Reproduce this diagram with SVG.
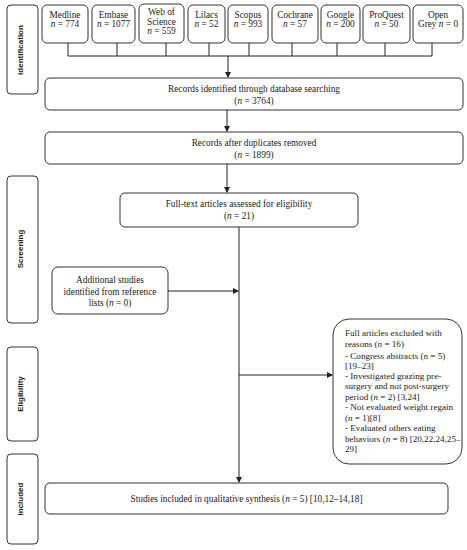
<svg xmlns="http://www.w3.org/2000/svg" width="467" height="550" viewBox="0 0 467 550">
<style>
.bx{fill:#fff;stroke:#333;stroke-width:1}
.t{font-family:"Liberation Serif",serif;font-size:9.3px;fill:#222;text-anchor:middle}
.tl{font-family:"Liberation Serif",serif;font-size:9.1px;fill:#222}
.s{font-family:"Liberation Sans",sans-serif;font-size:8px;font-weight:bold;fill:#222;text-anchor:middle}
.c{fill:none;stroke:#222;stroke-width:1}
</style>
<defs>
<marker id="ah" markerWidth="6" markerHeight="6" refX="5" refY="3" orient="auto" markerUnits="userSpaceOnUse">
<path d="M0,0 L6,3 L0,6 z" fill="#222"/>
</marker>
</defs>
<g id="stage-identification"><rect class="bx" x="7" y="5" width="31" height="89" rx="4"/><text class="s" transform="translate(23,50) rotate(-90)">Identification</text></g>
<g id="stage-screening"><rect class="bx" x="7" y="176" width="31" height="147" rx="4"/><text class="s" transform="translate(23,249) rotate(-90)">Screening</text></g>
<g id="stage-eligibility"><rect class="bx" x="7" y="347" width="31" height="94" rx="4"/><text class="s" transform="translate(23,394) rotate(-90)">Eligibility</text></g>
<g id="stage-included"><rect class="bx" x="7" y="454" width="31" height="90" rx="4"/><text class="s" transform="translate(23,499) rotate(-90)">Included</text></g>

<g id="db-medline"><rect class="bx" x="42" y="5" width="46" height="38" rx="5"/><text class="t" x="65" y="18">Medline</text><text class="t" x="65" y="27"><tspan font-style="italic">n</tspan> = 774</text></g>
<g id="db-embase"><rect class="bx" x="92" y="5" width="43" height="38" rx="5"/><text class="t" x="113.5" y="18">Embase</text><text class="t" x="113.5" y="27"><tspan font-style="italic">n</tspan> = 1077</text></g>
<g id="db-wos"><rect class="bx" x="139" y="4" width="45" height="39" rx="5"/><text class="t" x="161.5" y="15">Web of</text><text class="t" x="161.5" y="25">Science</text><text class="t" x="161.5" y="34"><tspan font-style="italic">n</tspan> = 559</text></g>
<g id="db-lilacs"><rect class="bx" x="188" y="5" width="37" height="38" rx="5"/><text class="t" x="206.5" y="18">Lilacs</text><text class="t" x="206.5" y="27"><tspan font-style="italic">n</tspan> = 52</text></g>
<g id="db-scopus"><rect class="bx" x="228" y="5" width="40" height="38" rx="5"/><text class="t" x="248" y="18">Scopus</text><text class="t" x="248" y="27"><tspan font-style="italic">n</tspan> = 993</text></g>
<g id="db-cochrane"><rect class="bx" x="272" y="5" width="46" height="38" rx="5"/><text class="t" x="295" y="18">Cochrane</text><text class="t" x="295" y="27"><tspan font-style="italic">n</tspan> = 57</text></g>
<g id="db-google"><rect class="bx" x="321" y="5" width="39" height="38" rx="5"/><text class="t" x="340.5" y="18">Google</text><text class="t" x="340.5" y="27"><tspan font-style="italic">n</tspan> = 200</text></g>
<g id="db-proquest"><rect class="bx" x="363" y="5" width="47" height="38" rx="5"/><text class="t" x="386.5" y="18">ProQuest</text><text class="t" x="386.5" y="27"><tspan font-style="italic">n</tspan> = 50</text></g>
<g id="db-opengrey"><rect class="bx" x="413" y="5" width="50" height="38" rx="5"/><text class="t" x="438" y="18">Open</text><text class="t" x="438" y="27">Grey <tspan font-style="italic">n</tspan> = 0</text></g>

<g id="identified"><rect class="bx" x="45" y="78" width="418" height="32" rx="5"/><text class="t" x="254" y="92">Records identified through database searching</text><text class="t" x="254" y="104">(<tspan font-style="italic">n</tspan> = 3764)</text></g>
<g id="deduplicated"><rect class="bx" x="45" y="132" width="418" height="32" rx="5"/><text class="t" x="254" y="146">Records after duplicates removed</text><text class="t" x="254" y="158">(<tspan font-style="italic">n</tspan> = 1899)</text></g>
<g id="fulltext"><rect class="bx" x="120" y="193" width="238" height="34" rx="5"/><text class="t" x="239" y="207">Full-text articles assessed for eligibility</text><text class="t" x="239" y="219">(<tspan font-style="italic">n</tspan> = 21)</text></g>
<g id="additional"><rect class="bx" x="52" y="267" width="116" height="47" rx="6"/><text class="t" x="110" y="283">Additional studies</text><text class="t" x="110" y="294.5">identified from reference</text><text class="t" x="110" y="306">lists (<tspan font-style="italic">n</tspan> = 0)</text></g>
<g id="excluded"><rect class="bx" x="333" y="319" width="129" height="145" rx="16"/>
<text class="tl" x="345" y="336">Full articles excluded with</text>
<text class="tl" x="345" y="346.5">reasons (<tspan font-style="italic">n</tspan> = 16)</text>
<text class="tl" x="345" y="359">- Congress abstracts (<tspan font-style="italic">n</tspan> = 5)</text>
<text class="tl" x="345" y="368.5">[19–23]</text>
<text class="tl" x="345" y="378.5">- Investigated grazing pre-</text>
<text class="tl" x="345" y="388.5">surgery and not post-surgery</text>
<text class="tl" x="345" y="399.5">period (<tspan font-style="italic">n</tspan> = 2) [3,24]</text>
<text class="tl" x="345" y="410">- Not evaluated weight regain</text>
<text class="tl" x="345" y="420.5">(<tspan font-style="italic">n</tspan> = 1)[8]</text>
<text class="tl" x="345" y="431">- Evaluated others eating</text>
<text class="tl" x="345" y="441.5">behaviors (<tspan font-style="italic">n</tspan> = 8) [20,22,24,25–</text>
<text class="tl" x="345" y="452">29]</text></g>
<g id="included"><rect class="bx" x="45" y="483" width="403" height="31" rx="5"/><text class="t" x="246.5" y="502">Studies included in qualitative synthesis (<tspan font-style="italic">n</tspan> = 5) [10,12–14,18]</text></g>

<g id="connectors">
<path class="c" d="M68,43 V56 M117,43 V56 M166,43 V56 M209,43 V56 M249,43 V56 M292,43 V56 M337,43 V56 M385,43 V56 M432,43 V56 M68,56 H432"/>
<path class="c" d="M228,56 V77" marker-end="url(#ah)"/>
<path class="c" d="M227,110 V131" marker-end="url(#ah)"/>
<path class="c" d="M227,164 V192" marker-end="url(#ah)"/>
<path class="c" d="M239,227 V482" marker-end="url(#ah)"/>
<path class="c" d="M168,291 H238" marker-end="url(#ah)"/>
<path class="c" d="M239,375 H332" marker-end="url(#ah)"/>
</g>
</svg>
